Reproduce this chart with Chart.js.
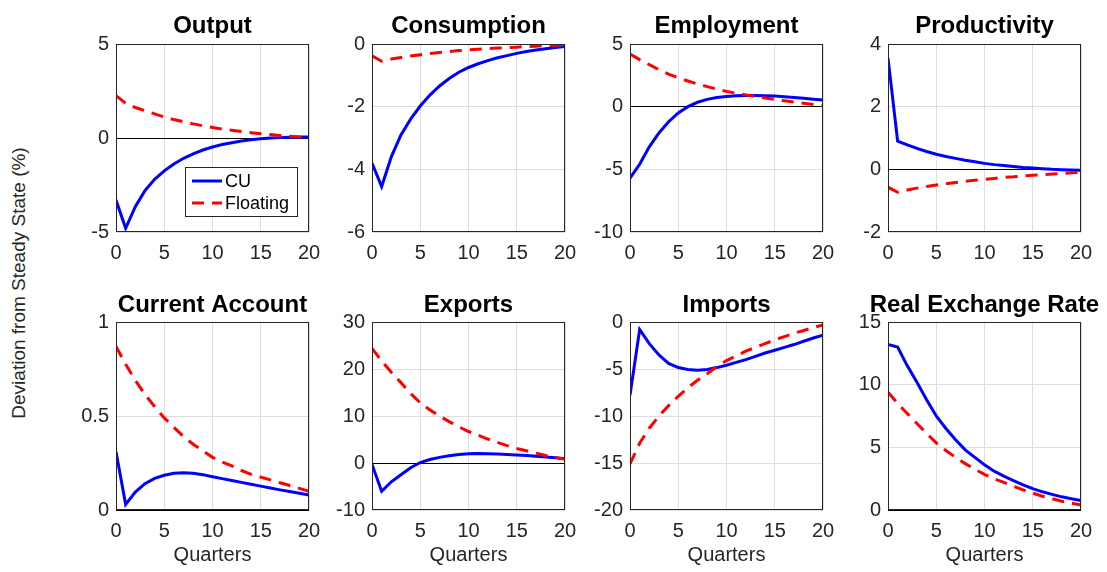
<!DOCTYPE html>
<html lang="en">
<head>
<meta charset="UTF-8" />
<title>Impulse responses: CU vs Floating</title>
<script src="https://cdn.jsdelivr.net/npm/chart.js@4.4.1/dist/chart.umd.min.js"></script>
<style>
  body { margin: 0; background: #fff; width: 1107px; height: 572px; position: relative; overflow: hidden;
         font-family: "Liberation Sans", Arial, sans-serif; }
  canvas { position: absolute; }
  #ylab { position: absolute; left: 19px; top: 283px; transform: translate(-50%, -50%) rotate(-90deg);
          white-space: nowrap; font-size: 19px; color: #262626; }
</style>
</head>
<body>
<div id="ylab">Deviation from Steady State (%)</div>
<script>
// values, quarters 0..20
const quarters = [0, 1, 2, 3, 4, 5, 6, 7, 8, 9, 10, 11, 12, 13, 14, 15, 16, 17, 18, 19, 20];
const xTicks = [0, 5, 10, 15, 20];

const outputCU    = [-3.3, -4.8, -3.65, -2.8, -2.2, -1.75, -1.38, -1.08, -0.84, -0.64, -0.48, -0.35, -0.25, -0.16, -0.09, -0.04, 0.0, 0.02, 0.04, 0.05, 0.05];
const outputFloat = [2.25, 1.85, 1.62, 1.45, 1.28, 1.12, 0.98, 0.86, 0.75, 0.65, 0.56, 0.48, 0.41, 0.34, 0.28, 0.23, 0.18, 0.13, 0.09, 0.05, 0.02];
const outputTicks = [-5, 0, 5];

const consCU    = [-3.8, -4.55, -3.6, -2.9, -2.4, -1.98, -1.63, -1.34, -1.1, -0.9, -0.75, -0.63, -0.53, -0.44, -0.37, -0.3, -0.24, -0.19, -0.15, -0.11, -0.08];
const consFloat = [-0.38, -0.55, -0.48, -0.43, -0.38, -0.34, -0.3, -0.27, -0.24, -0.21, -0.19, -0.17, -0.15, -0.13, -0.12, -0.1, -0.08, -0.07, -0.05, -0.04, -0.03];
const consTicks = [-6, -4, -2, 0];

const emplCU    = [-5.7, -4.6, -3.2, -2.1, -1.2, -0.5, 0.0, 0.35, 0.58, 0.73, 0.82, 0.88, 0.9, 0.9, 0.88, 0.85, 0.8, 0.74, 0.67, 0.6, 0.53];
const emplFloat = [4.2, 3.75, 3.35, 2.95, 2.6, 2.3, 2.05, 1.8, 1.6, 1.4, 1.22, 1.07, 0.94, 0.82, 0.7, 0.58, 0.47, 0.37, 0.27, 0.17, 0.08];
const emplTicks = [-10, -5, 0, 5];

const prodCU    = [3.55, 0.9, 0.78, 0.67, 0.57, 0.48, 0.41, 0.35, 0.29, 0.24, 0.19, 0.15, 0.12, 0.09, 0.06, 0.04, 0.02, 0.0, -0.01, -0.02, -0.03];
const prodFloat = [-0.57, -0.73, -0.66, -0.6, -0.55, -0.5, -0.46, -0.42, -0.38, -0.35, -0.32, -0.29, -0.26, -0.24, -0.21, -0.19, -0.17, -0.15, -0.13, -0.11, -0.09];
const prodTicks = [-2, 0, 2, 4];

const caCU    = [0.31, 0.03, 0.095, 0.14, 0.168, 0.185, 0.195, 0.198, 0.195, 0.188, 0.177, 0.167, 0.157, 0.147, 0.137, 0.127, 0.117, 0.107, 0.098, 0.089, 0.08];
const caFloat = [0.87, 0.775, 0.69, 0.615, 0.55, 0.49, 0.44, 0.39, 0.35, 0.315, 0.28, 0.255, 0.235, 0.21, 0.19, 0.175, 0.16, 0.145, 0.13, 0.115, 0.1];
const caTicks = [0, 0.5, 1];

const expCU    = [-0.3, -6.0, -4.0, -2.5, -1.0, 0.1, 0.75, 1.2, 1.55, 1.8, 1.95, 2.0, 1.98, 1.92, 1.83, 1.72, 1.6, 1.45, 1.3, 1.1, 0.9];
const expFloat = [24.4, 21.7, 19.3, 17.1, 14.8, 12.8, 11.3, 10.0, 8.8, 7.7, 6.7, 5.9, 5.1, 4.4, 3.7, 3.1, 2.6, 2.1, 1.6, 1.2, 0.8];
const expTicks = [-10, 0, 10, 20, 30];

const impCU    = [-7.8, -0.8, -2.3, -3.5, -4.4, -4.85, -5.05, -5.12, -5.05, -4.85, -4.6, -4.3, -4.0, -3.65, -3.3, -3.0, -2.7, -2.4, -2.05, -1.7, -1.4];
const impFloat = [-15.1, -12.9, -11.3, -10.0, -8.9, -7.9, -7.0, -6.2, -5.5, -4.75, -4.1, -3.6, -3.1, -2.7, -2.3, -1.9, -1.55, -1.2, -0.9, -0.6, -0.3];
const impTicks = [-20, -15, -10, -5, 0];

const rerCU    = [13.2, 13.0, 11.5, 10.2, 8.8, 7.5, 6.5, 5.6, 4.8, 4.2, 3.6, 3.1, 2.7, 2.35, 2.0, 1.7, 1.45, 1.25, 1.05, 0.9, 0.75];
const rerFloat = [9.4, 8.5, 7.7, 6.9, 6.1, 5.35, 4.75, 4.2, 3.7, 3.25, 2.85, 2.5, 2.2, 1.9, 1.6, 1.35, 1.1, 0.9, 0.7, 0.55, 0.4];
const rerTicks = [0, 5, 10, 15];

const panels = [
  { title: 'Output',             cu: outputCU, fl: outputFloat, ticks: outputTicks, legend: true },
  { title: 'Consumption',        cu: consCU,   fl: consFloat,   ticks: consTicks },
  { title: 'Employment',         cu: emplCU,   fl: emplFloat,   ticks: emplTicks },
  { title: 'Productivity',       cu: prodCU,   fl: prodFloat,   ticks: prodTicks },
  { title: 'Current Account',    cu: caCU,     fl: caFloat,     ticks: caTicks },
  { title: 'Exports',            cu: expCU,    fl: expFloat,    ticks: expTicks },
  { title: 'Imports',            cu: impCU,    fl: impFloat,    ticks: impTicks },
  { title: 'Real Exchange Rate', cu: rerCU,    fl: rerFloat,    ticks: rerTicks }
];

// layout of the 2x4 grid (plot areas)
const colLeft = [116, 372, 630, 888];
const rowTop = [44, 322];
const plotW = 193, plotH = 188;
const axisW = 62, padRight = 24, titleH = 44;
const FONT = '"Liberation Sans", Arial, sans-serif';

Chart.defaults.font.family = FONT;
Chart.defaults.color = '#262626';

const frame = {
  id: 'frame',
  afterDatasetsDraw(chart) {
    const { ctx, chartArea: a } = chart;
    ctx.save();
    ctx.strokeStyle = '#262626';
    ctx.lineWidth = 1;
    ctx.strokeRect(a.left + 0.5, a.top + 0.5, a.width - 1, a.height - 1);
    ctx.restore();
  }
};

// title centred on the plot box, allowed to run wider than it (like matlab)
const panelTitle = {
  id: 'panelTitle',
  afterDraw(chart, args, opts) {
    const { ctx, chartArea: a } = chart;
    ctx.save();
    ctx.font = 'bold 24px ' + FONT;
    ctx.fillStyle = '#000';
    ctx.textAlign = 'center';
    ctx.textBaseline = 'alphabetic';
    ctx.fillText(opts.text, (a.left + a.right) / 2, a.top - opts.gap);
    ctx.restore();
  }
};

const legendBox = {
  id: 'legendBox',
  afterDraw(chart) {
    const { ctx, chartArea: a } = chart;
    const w = 112, h = 49;
    const x = a.right - 12 - w, y = a.bottom - 16 - h;
    ctx.save();
    ctx.fillStyle = '#fff';
    ctx.fillRect(x, y, w, h);
    ctx.strokeStyle = '#262626';
    ctx.lineWidth = 1;
    ctx.strokeRect(x + 0.5, y + 0.5, w, h);
    chart.data.datasets.forEach((ds, i) => {
      const ly = y + 14 + i * 22;
      ctx.strokeStyle = ds.borderColor;
      ctx.lineWidth = ds.borderWidth;
      ctx.setLineDash(ds.borderDash || []);
      ctx.beginPath();
      ctx.moveTo(x + 7, ly);
      ctx.lineTo(x + 37, ly);
      ctx.stroke();
      ctx.setLineDash([]);
      ctx.fillStyle = '#000';
      ctx.font = '18px ' + FONT;
      ctx.textBaseline = 'middle';
      ctx.fillText(ds.label, x + 40, ly + 1);
    });
    ctx.restore();
  }
};

const pts = vals => quarters.map((q, i) => ({ x: q, y: vals[i] }));

panels.forEach((p, k) => {
  const row = Math.floor(k / 4), col = k % 4;
  const bottomRow = row === 1;
  const xAxisH = bottomRow ? 57 : 34;
  const cv = document.createElement('canvas');
  cv.width = axisW + plotW + padRight;
  cv.height = titleH + plotH + xAxisH;
  cv.style.left = (colLeft[col] - axisW) + 'px';
  cv.style.top = (rowTop[row] - titleH) + 'px';
  document.body.appendChild(cv);

  new Chart(cv.getContext('2d'), {
    type: 'line',
    data: {
      datasets: [
        { label: 'CU', data: pts(p.cu), borderColor: '#0000ff', borderWidth: 3, pointRadius: 0, tension: 0, order: 1 },
        { label: 'Floating', data: pts(p.fl), borderColor: '#ff0000', borderWidth: 3, borderDash: [12, 8], pointRadius: 0, tension: 0, order: 0 }
      ]
    },
    options: {
      responsive: false,
      animation: false,
      layout: { padding: { left: 0, right: padRight, top: titleH, bottom: 0 } },
      plugins: {
        legend: { display: false },
        tooltip: { enabled: false },
        title: { display: false },
        panelTitle: { text: p.title, gap: bottomRow ? 10 : 11 }
      },
      scales: {
        x: {
          type: 'linear', min: 0, max: 20,
          afterBuildTicks: s => { s.ticks = xTicks.map(v => ({ value: v })); },
          afterFit: s => { s.height = xAxisH; },
          grid: { color: '#dedede', drawTicks: false },
          border: { display: false },
          ticks: { font: { size: 20 }, padding: 9, maxRotation: 0, callback: v => String(v) },
          title: { display: bottomRow, text: 'Quarters', font: { size: 20 }, padding: { top: 0, bottom: 0 } }
        },
        y: {
          min: p.ticks[0], max: p.ticks[p.ticks.length - 1],
          afterBuildTicks: s => { s.ticks = p.ticks.map(v => ({ value: v })); },
          afterFit: s => { s.width = axisW; },
          grid: { color: c => (c.tick && c.tick.value === 0 ? '#000' : '#dedede'), drawTicks: false },
          border: { display: false },
          ticks: { font: { size: 20 }, padding: 7, callback: v => String(v) }
        }
      }
    },
    plugins: p.legend ? [frame, panelTitle, legendBox] : [frame, panelTitle]
  });
});
</script>
</body>
</html>
